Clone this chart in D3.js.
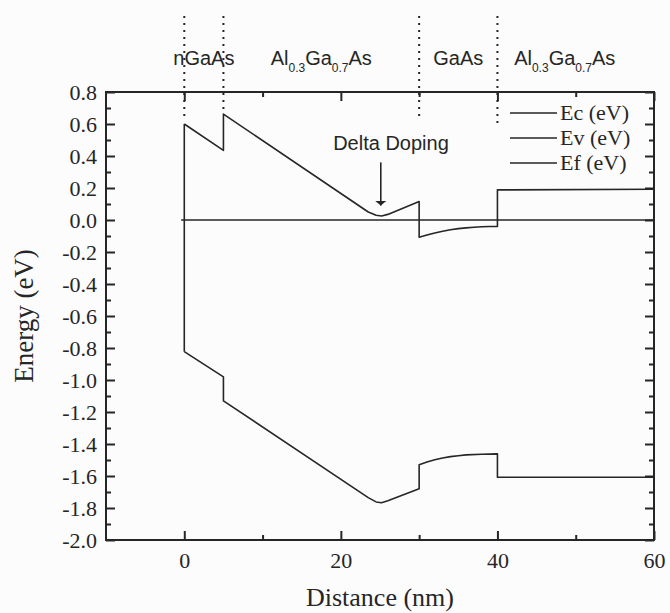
<!DOCTYPE html>
<html>
<head>
<meta charset="utf-8">
<script src="https://cdn.jsdelivr.net/npm/d3@7"></script>
<style>
  html, body { margin: 0; padding: 0; background: #fcfcfc; }
  svg { display: block; }
</style>
</head>
<body>
<svg id="chart"></svg>
<script>
// --------- data -------------------------------
const ecData = [
  [0, 0.60], [5, 0.435], [5, 0.662], [23.5, 0.05], [24.5, 0.03], [25.2, 0.025],
  [26, 0.035], [30, 0.115], [30, -0.108], [31, -0.094], [32, -0.081], [33, -0.07],
  [34, -0.061], [35, -0.054], [36, -0.049], [37, -0.045], [38, -0.042], [39, -0.041],
  [40, -0.04], [40, 0.188], [60, 0.192]
];
const evData = [
  [0, -0.823], [5, -0.98], [5, -1.13], [23.5, -1.735], [24.5, -1.762], [25.2, -1.767],
  [26, -1.755], [30, -1.68], [30, -1.53], [31, -1.513], [32, -1.499], [33, -1.487],
  [34, -1.479], [35, -1.473], [36, -1.468], [38, -1.464], [40, -1.462], [40, -1.608],
  [60, -1.608]
];
const efData = [[-0.4, 0], [60, 0]];

const legendNames = ["Ec (eV)", "Ev (eV)", "Ef (eV)"];

// layer boundaries (nm) and the value where each dotted line stops
const boundaries = [0, 5, 30, 40];
const boundaryEnds = [0.63, 0.67, 0.64, 0.60];

// layer labels: [centre (nm), parts] ; parts are [text, isSubscript]
const layerLabels = [
  [2.5, [["nGaAs", false]]],
  [17.5, [["Al", false], ["0.3", true], ["Ga", false], ["0.7", true], ["As", false]]],
  [35, [["GaAs", false]]],
  [48.6, [["Al", false], ["0.3", true], ["Ga", false], ["0.7", true], ["As", false]]]
];

const xMajor = [0, 20, 40, 60];
const xMinor = [10, 30, 50];
const yMajor = d3.range(-2.0, 0.81, 0.2).map(v => +v.toFixed(1));
const yMinor = d3.range(-1.9, 0.8, 0.2).map(v => +v.toFixed(1));

// annotation
const deltaText = "Delta Doping";
const deltaTextPos = [26.4, 0.44];
const deltaArrow = [25.1, 0.36, 0.09];

// --------- rendering ----------
const width = 670, height = 613;
const margin = { left: 106, right: 16, top: 92, bottom: 73 };
const serif = "'Liberation Serif', 'Times New Roman', serif";
const sans = "'Liberation Sans', Arial, sans-serif";
const ink = "#262626";

const svg = d3.select("#chart")
  .attr("width", width)
  .attr("height", height);

const x = d3.scaleLinear().domain([-10, 60]).range([margin.left, width - margin.right]);
const y = d3.scaleLinear().domain([-2.0, 0.8]).range([height - margin.bottom, margin.top]);

svg.append("defs").append("marker")
  .attr("id", "arrow")
  .attr("viewBox", "0 0 10 10")
  .attr("refX", 10).attr("refY", 5)
  .attr("markerWidth", 5).attr("markerHeight", 12)
  .attr("markerUnits", "userSpaceOnUse")
  .attr("orient", "auto")
  .attr("preserveAspectRatio", "none")
  .append("path")
  .attr("d", "M0,0 L10,5 L0,10 Z")
  .attr("fill", ink);

// plain hyphen for negatives, as in the original
const fmtY = d => d3.format(".1f")(d).replace("\u2212", "-");

// axes with inward ticks
function styleAxis(g) {
  g.attr("font-family", null).attr("font-size", null);
  g.select(".domain").remove();
  g.selectAll("line").attr("stroke", ink).attr("stroke-width", 2);
  g.selectAll("text")
    .attr("fill", ink)
    .style("font-family", serif)
    .style("font-size", "22px");
}

const plotBottom = height - margin.bottom;
const plotTop = margin.top;
const plotLeft = margin.left;
const plotRight = width - margin.right;

// bottom
svg.append("g").attr("transform", `translate(0,${plotBottom})`)
  .call(d3.axisBottom(x).tickValues(xMajor).tickSizeInner(-9).tickSizeOuter(0).tickPadding(12).tickFormat(d3.format("d")))
  .call(styleAxis);
svg.append("g").attr("transform", `translate(0,${plotBottom})`)
  .call(d3.axisBottom(x).tickValues(xMinor).tickSizeInner(-5).tickSizeOuter(0).tickFormat(""))
  .call(styleAxis);
// top
svg.append("g").attr("transform", `translate(0,${plotTop})`)
  .call(d3.axisTop(x).tickValues(xMajor).tickSizeInner(-9).tickSizeOuter(0).tickFormat(""))
  .call(styleAxis);
svg.append("g").attr("transform", `translate(0,${plotTop})`)
  .call(d3.axisTop(x).tickValues(xMinor).tickSizeInner(-5).tickSizeOuter(0).tickFormat(""))
  .call(styleAxis);
// left
svg.append("g").attr("transform", `translate(${plotLeft},0)`)
  .call(d3.axisLeft(y).tickValues(yMajor).tickSizeInner(-9).tickSizeOuter(0).tickPadding(9).tickFormat(fmtY))
  .call(styleAxis);
svg.append("g").attr("transform", `translate(${plotLeft},0)`)
  .call(d3.axisLeft(y).tickValues(yMinor).tickSizeInner(-5).tickSizeOuter(0).tickFormat(""))
  .call(styleAxis);
// right
svg.append("g").attr("transform", `translate(${plotRight},0)`)
  .call(d3.axisRight(y).tickValues(yMajor).tickSizeInner(-9).tickSizeOuter(0).tickFormat(""))
  .call(styleAxis);
svg.append("g").attr("transform", `translate(${plotRight},0)`)
  .call(d3.axisRight(y).tickValues(yMinor).tickSizeInner(-5).tickSizeOuter(0).tickFormat(""))
  .call(styleAxis);

// frame
svg.append("rect")
  .attr("x", plotLeft).attr("y", plotTop)
  .attr("width", plotRight - plotLeft).attr("height", plotBottom - plotTop)
  .attr("fill", "none").attr("stroke", ink).attr("stroke-width", 2);

// layer boundaries (dotted)
svg.append("g").selectAll("line")
  .data(boundaries)
  .join("line")
  .attr("x1", d => x(d)).attr("x2", d => x(d))
  .attr("y1", 16)
  .attr("y2", (d, i) => y(boundaryEnds[i]))
  .attr("stroke", ink).attr("stroke-width", 2)
  .attr("stroke-dasharray", "2,5");

// layer names
layerLabels.forEach(([cx, parts]) => {
  const t = svg.append("text")
    .attr("x", x(cx)).attr("y", 65)
    .attr("text-anchor", "middle")
    .attr("font-family", sans).attr("font-size", 20)
    .attr("fill", ink);
  let sub = false;
  parts.forEach(([txt, isSub]) => {
    const dy = isSub && !sub ? 7 : (!isSub && sub ? -7 : 0);
    t.append("tspan")
      .attr("dy", dy)
      .attr("font-size", isSub ? 12 : 20)
      .text(txt);
    sub = isSub;
  });
});

// curves
const line = d3.line().x(d => x(d[0])).y(d => y(d[1]));
const series = [ecData, evData, efData];

svg.append("g").selectAll("path")
  .data(series)
  .join("path")
  .attr("d", line)
  .attr("fill", "none")
  .attr("stroke", ink)
  .attr("stroke-width", 1.6)
  .attr("stroke-linejoin", "round");

// left edge of the structure, joining the first Ec and Ev points
svg.append("path")
  .attr("d", line([ecData[0], evData[0]]))
  .attr("stroke", ink).attr("stroke-width", 1.6);

// delta doping annotation
svg.append("text")
  .attr("x", x(deltaTextPos[0])).attr("y", y(deltaTextPos[1]))
  .attr("text-anchor", "middle")
  .attr("font-family", sans).attr("font-size", 20)
  .attr("fill", ink)
  .text(deltaText);
svg.append("line")
  .attr("x1", x(deltaArrow[0])).attr("x2", x(deltaArrow[0]))
  .attr("y1", y(deltaArrow[1])).attr("y2", y(deltaArrow[2]))
  .attr("stroke", ink).attr("stroke-width", 1.6)
  .attr("marker-end", "url(#arrow)");

// legend
const legend = svg.append("g").attr("transform", "translate(510,113)");
legendNames.forEach((name, i) => {
  const row = legend.append("g").attr("transform", `translate(0,${i * 25})`);
  row.append("line")
    .attr("x1", 0).attr("x2", 47)
    .attr("stroke", ink).attr("stroke-width", 1.6);
  row.append("text")
    .attr("x", 50).attr("y", 7)
    .attr("font-family", serif).attr("font-size", 22)
    .attr("fill", ink)
    .text(name);
});

// axis titles
svg.append("text")
  .attr("x", (plotLeft + plotRight) / 2).attr("y", 606)
  .attr("text-anchor", "middle")
  .attr("font-family", serif).attr("font-size", 26)
  .attr("fill", ink)
  .text("Distance (nm)");
svg.append("text")
  .attr("transform", `translate(33,${(plotTop + plotBottom) / 2}) rotate(-90)`)
  .attr("text-anchor", "middle")
  .attr("font-family", serif).attr("font-size", 27)
  .attr("fill", ink)
  .text("Energy (eV)");
</script>
</body>
</html>
